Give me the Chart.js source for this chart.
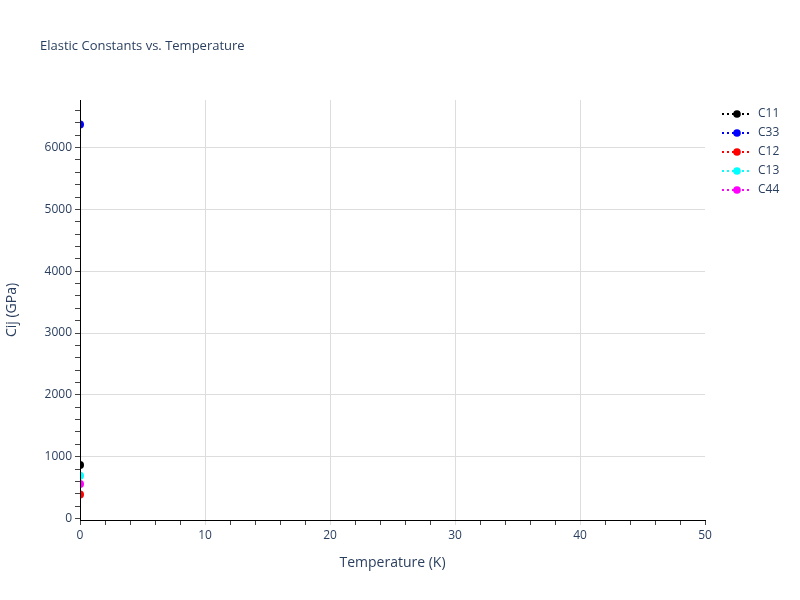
<!DOCTYPE html>
<html>
<head>
<meta charset="utf-8">
<script src="https://cdn.jsdelivr.net/npm/chart.js@4/dist/chart.umd.min.js"></script>
<style>
  html, body { margin: 0; padding: 0; background: #fff; }
  #wrap { width: 800px; height: 600px; }
</style>
</head>
<body>
<div id="wrap"><canvas id="myChart"></canvas></div>
<script>
// dati (un solo punto a T = 0 K)
const temperatures = [0];
const c11 = [865];
const c33 = [6372];
const c12 = [386];
const c13 = [692];
const c44 = [559];

const seriesNames = ['C11', 'C33', 'C12', 'C13', 'C44'];
const seriesValues = [c11, c33, c12, c13, c44];
const seriesColors = ['#000000', '#0000ff', '#ff0000', '#00ffff', '#ff00ff'];

const xTickLabels = [0, 10, 20, 30, 40, 50];
const yTickLabels = [0, 1000, 2000, 3000, 4000, 5000, 6000];

const textColor = '#2a3f5f';
const font = '"Open Sans", "Noto Sans", sans-serif';

// tacche minori: ogni 2 K sull'asse x, ogni 200 GPa sull'asse y
function minorTicks(from, to, step) {
  const out = [];
  for (let v = from; v <= to; v += step) out.push({ value: v });
  return out;
}

const datasets = seriesNames.map((name, i) => ({
  label: name,
  data: temperatures.map((t, k) => ({ x: t, y: seriesValues[i][k] })),
  showLine: true,
  borderColor: seriesColors[i],
  backgroundColor: seriesColors[i],
  borderWidth: 2,
  borderDash: [2, 3],
  pointRadius: 4,
  pointHoverRadius: 4,
  pointBorderWidth: 0
}));

// titolo e legenda disegnati a mano (stile plotly)
const decorPlugin = {
  id: 'decor',
  afterDraw(chart) {
    const ctx = chart.ctx;
    ctx.save();
    ctx.fillStyle = textColor;
    ctx.font = '13px ' + font;
    ctx.textBaseline = 'middle';
    ctx.textAlign = 'left';
    ctx.fillText('Elastic Constants vs. Temperature', 40, 46);

    chart.data.datasets.forEach((ds, i) => {
      const y = 114 + i * 19;
      ctx.strokeStyle = ds.borderColor;
      ctx.lineWidth = 2;
      ctx.setLineDash([2, 3]);
      ctx.beginPath();
      ctx.moveTo(722, y);
      ctx.lineTo(752, y);
      ctx.stroke();
      ctx.setLineDash([]);
      ctx.fillStyle = ds.backgroundColor;
      ctx.beginPath();
      ctx.arc(737, y, 3.8, 0, Math.PI * 2);
      ctx.fill();
      ctx.fillStyle = textColor;
      ctx.font = '12px ' + font;
      ctx.fillText(ds.label, 758, y);
    });
    ctx.restore();
  }
};

const ctx = document.getElementById('myChart');
new Chart(ctx, {
  type: 'scatter',
  data: { datasets: datasets },
  plugins: [decorPlugin],
  options: {
    responsive: true,
    maintainAspectRatio: false,
    animation: false,
    layout: { padding: { top: 100, right: 95, bottom: 0, left: 0 } },
    plugins: {
      legend: { display: false },
      title: { display: false },
      tooltip: { enabled: false }
    },
    scales: {
      x: {
        type: 'linear',
        min: 0,
        max: 50,
        afterBuildTicks(scale) { scale.ticks = minorTicks(0, 50, 2); },
        afterFit(scale) { scale.height = 80; },
        border: { color: '#000', width: 1, z: 1 },
        grid: {
          color: (c) => (c.tick && c.tick.value % 10 === 0 && c.tick.value > 0 && c.tick.value < 50) ? '#dddddd' : 'rgba(0,0,0,0)',
          tickColor: (c) => (c.tick && c.tick.value % 10 === 0 && c.tick.value > 0 && c.tick.value < 50) ? '#dddddd' : '#444',
          tickLength: 5,
          lineWidth: 1
        },
        ticks: {
          autoSkip: false,
          maxRotation: 0,
          padding: 3,
          color: textColor,
          font: { family: font, size: 12 },
          callback: (v) => xTickLabels.includes(v) ? String(v) : ''
        },
        title: {
          display: true,
          text: 'Temperature (K)',
          color: textColor,
          font: { family: font, size: 14 },
          padding: { top: 0, bottom: 29 }
        }
      },
      y: {
        type: 'linear',
        min: -25,
        max: 6770,
        afterBuildTicks(scale) { scale.ticks = minorTicks(0, 6600, 200); },
        afterFit(scale) { scale.width = 80; },
        border: { color: '#000', width: 1, z: 1 },
        grid: {
          color: (c) => (c.tick && c.tick.value % 1000 === 0 && c.tick.value > 0) ? '#dddddd' : 'rgba(0,0,0,0)',
          tickColor: '#444',
          tickLength: 5,
          lineWidth: 1
        },
        ticks: {
          autoSkip: false,
          padding: 3,
          color: textColor,
          font: { family: font, size: 12 },
          callback: (v) => yTickLabels.includes(v) ? String(v) : ''
        },
        title: {
          display: true,
          text: 'Cij (GPa)',
          color: textColor,
          font: { family: font, size: 14 },
          padding: { top: 4, bottom: 0 }
        }
      }
    }
  }
});
</script>
</body>
</html>
